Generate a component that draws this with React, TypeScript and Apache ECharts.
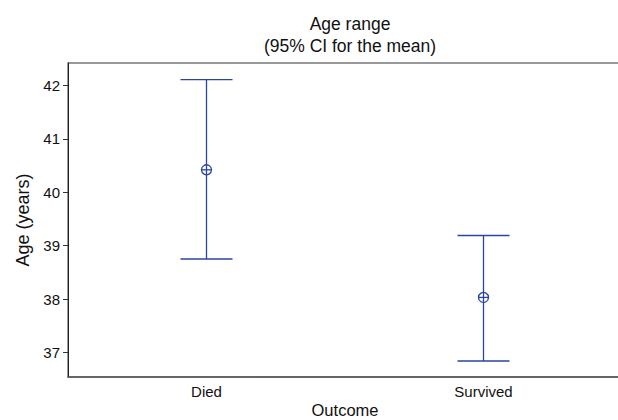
import React, { useEffect, useRef } from "react";
import * as echarts from "echarts";

const categories = ["Died", "Survived"];
const lower = [38.75, 36.84];
const means = [40.42, 38.03];
const upper = [42.11, 39.19];
const yTicks = [37, 38, 39, 40, 41, 42];

const BLUE = "#2a45a0";
const FONT = "'Liberation Sans', Arial, sans-serif";

export default function App() {
  const ref = useRef<HTMLDivElement>(null);
  useEffect(() => {
    if (!ref.current) return;
    const chart = echarts.init(ref.current, undefined, { renderer: "svg" });
    const data = categories.map((_, i) => [i, lower[i], means[i], upper[i]]);
    chart.setOption({
      animation: false,
      title: {
        text: "Age range\n(95% CI for the mean)",
        left: 345,
        top: 8,
        textAlign: "center",
        textStyle: {
          fontFamily: FONT,
          fontSize: 17.5,
          fontWeight: "normal",
          color: "#111",
          lineHeight: 22,
        },
      },
      grid: {
        left: 68,
        top: 63,
        right: -4,
        bottom: 43,
        outerBoundsMode: "none",
        containLabel: false,
        show: true,
        borderColor: "#777",
        borderWidth: 1.5,
      },
      xAxis: {
        type: "category",
        data: categories,
        boundaryGap: true,
        name: "Outcome",
        nameLocation: "middle",
        nameGap: 24,
        nameMoveOverlap: false,
        nameTextStyle: { fontFamily: FONT, fontSize: 16.5, color: "#111", lineHeight: 17 },
        axisLine: { lineStyle: { color: "#555", width: 1.5 } },
        axisTick: { alignWithLabel: true, length: 5, lineStyle: { color: "#333" } },
        axisLabel: { fontFamily: FONT, fontSize: 15, color: "#111", margin: 7 },
        splitLine: { show: false },
      },
      yAxis: {
        type: "value",
        min: 36.54,
        max: 42.42,
        name: "Age (years)",
        nameLocation: "middle",
        nameGap: 36,
        nameTextStyle: { fontFamily: FONT, fontSize: 18, color: "#111" },
        axisLine: { show: true, lineStyle: { color: "#222", width: 1 } },
        axisTick: { show: true, length: 5, customValues: yTicks, lineStyle: { color: "#333" } },
        axisLabel: { fontFamily: FONT, fontSize: 15, color: "#111", margin: 8, customValues: yTicks },
        splitLine: { show: false },
      },
      series: [
        {
          type: "custom",
          data,
          renderItem: (params: any, api: any) => {
            const x = api.value(0);
            const lo = api.coord([x, api.value(1)]);
            const mid = api.coord([x, api.value(2)]);
            const hi = api.coord([x, api.value(3)]);
            const hw = 26;
            const r = 5;
            const style = { stroke: BLUE, lineWidth: 1.3, fill: null };
            return {
              type: "group",
              children: [
                { type: "line", shape: { x1: hi[0], y1: hi[1], x2: lo[0], y2: lo[1] }, style },
                { type: "line", shape: { x1: hi[0] - hw, y1: hi[1], x2: hi[0] + hw, y2: hi[1] }, style },
                { type: "line", shape: { x1: lo[0] - hw, y1: lo[1], x2: lo[0] + hw, y2: lo[1] }, style },
                { type: "circle", shape: { cx: mid[0], cy: mid[1], r }, style: { stroke: BLUE, lineWidth: 1.3, fill: "rgba(0,0,0,0)" } },
                { type: "line", shape: { x1: mid[0] - r, y1: mid[1], x2: mid[0] + r, y2: mid[1] }, style },
              ],
            };
          },
        },
      ],
    });
    return () => chart.dispose();
  }, []);
  return <div ref={ref} style={{ width: 618, height: 420, position: "absolute", left: 0, top: 0 }} />;
}
